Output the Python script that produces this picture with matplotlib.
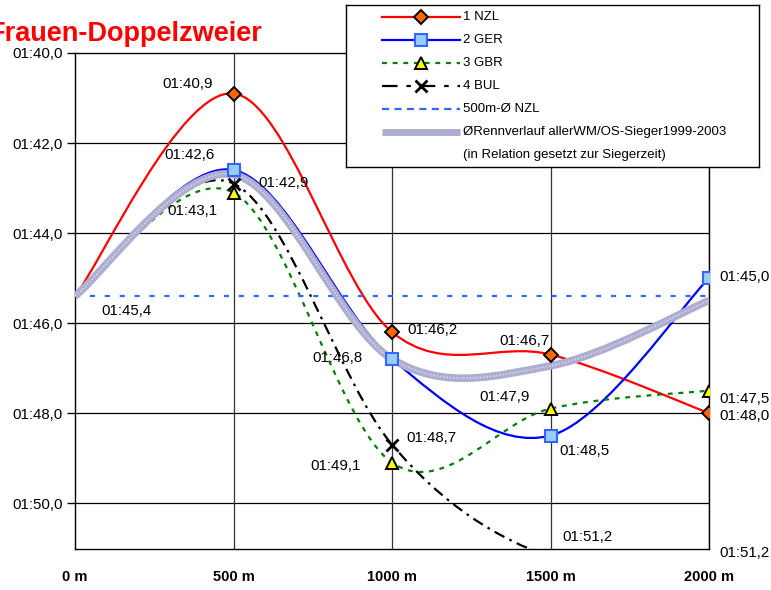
import numpy as np
import matplotlib
matplotlib.use("Agg")
import matplotlib.pyplot as plt
from matplotlib.path import Path
from matplotlib.patches import PathPatch

plt.rcParams['font.family'] = ['Liberation Sans', 'DejaVu Sans']

# split times in seconds (100.9 = 01:40,9)
distance = [0, 500, 1000, 1500, 2000]
dist_labels = ["0 m", "500 m", "1000 m", "1500 m", "2000 m"]
nzl = [105.4, 100.9, 106.2, 106.7, 108.0]
ger = [105.4, 102.6, 106.8, 108.5, 105.0]
gbr = [105.4, 103.1, 109.1, 107.9, 107.5]
bul = [105.4, 102.9, 108.7, 111.2, 111.2]
avg_nzl = [105.4, 105.4]
winners = [105.4, 102.7, 106.8, 106.95, 105.5]
y_ticks = [100, 102, 104, 106, 108, 110]


def fmt(v):
    return ("01:%04.1f" % (v - 60)).replace(".", ",")


def smooth_path(xs, ys):
    # excel-like smoothed line (catmull-rom as bezier)
    pts = np.column_stack([xs, ys]).astype(float)
    n = len(pts)
    verts = [pts[0]]
    codes = [Path.MOVETO]
    for i in range(n - 1):
        p0 = pts[max(i - 1, 0)]
        p1 = pts[i]
        p2 = pts[i + 1]
        p3 = pts[min(i + 2, n - 1)]
        verts += [p1 + (p2 - p0) / 6, p2 - (p3 - p1) / 6, p2]
        codes += [Path.CURVE4] * 3
    return Path(verts, codes)


fig = plt.figure(figsize=(7.71, 5.90), dpi=100)
ax = fig.add_axes([75 / 771, 1 - 549 / 590, 634 / 771, 496 / 590])
ax.set_xlim(0, 2000)
ax.set_ylim(111.02, 100)

# grid
for y in y_ticks[1:]:
    ax.axhline(y, color='black', lw=0.9, zorder=1)
for x in distance[1:]:
    ax.axvline(x, color='#333333', lw=0.9, zorder=1)

styles = {
    'nzl': dict(color='#ff0000', lw=1.6, ls='-'),
    'ger': dict(color='#0000ff', lw=1.6, ls='-'),
    'gbr': dict(color='#008000', lw=1.6, ls=(0, (2.2, 2.6))),
    'bul': dict(color='black', lw=1.6, ls=(0, (5, 2.5, 1.2, 2.5))),
}
series = [('nzl', nzl), ('ger', ger), ('gbr', gbr), ('bul', bul)]
for key, vals in series:
    st = styles[key]
    ax.add_patch(PathPatch(smooth_path(distance, vals), fill=False,
                           edgecolor=st['color'], lw=st['lw'],
                           linestyle=st['ls'], zorder=3))

# average of all winners (hatched band)
ax.add_patch(PathPatch(smooth_path(distance, winners), fill=False,
                       edgecolor='#adadd0', lw=5.5, zorder=4))
ax.add_patch(PathPatch(smooth_path(distance, winners), fill=False,
                       edgecolor='#d4d4ea', lw=1.2, linestyle=(0, (1, 1)),
                       zorder=4))

ax.plot([distance[0], distance[-1]], avg_nzl, color='#3366ff', lw=1.6,
        ls=(0, (2.3, 4.4)), zorder=3)

mk = dict(ls='none', zorder=5, clip_on=True)
ax.plot(distance[1:], nzl[1:], marker='D', ms=7, mfc='#ff6600', mec='black', mew=1.4, **mk)
ax.plot(distance[1:], ger[1:], marker='s', ms=8, mfc='#99ccff', mec='#3366ff', mew=1.5, **mk)
ax.plot(distance[1:], gbr[1:], marker='^', ms=8, mfc='#ffff00', mec='black', mew=1.4, **mk)
ax.plot(distance[1:], bul[1:], marker='x', ms=8, mec='black', mew=2, **mk)

# data labels (offset in pixels from the point)
label_offsets = {
    'nzl': [(-46, 10), (40, 2), (-26, 14), (36, -3)],
    'ger': [(-44, 15), (-55, 1), (34, -15), (36, 1)],
    'gbr': [(-41, -18), (-56, -3), (-46, 12), (36, -8)],
    'bul': [(50, 1), (39, 7), (37, 20), (36, 4)],
}
for key, vals in series:
    for x, v, off in zip(distance[1:], vals[1:], label_offsets[key]):
        ax.annotate(fmt(v), (x, v), xytext=off, textcoords='offset pixels',
                    ha='center', va='center', fontsize=10.8,
                    annotation_clip=False, zorder=6)
ax.annotate(fmt(avg_nzl[0]), (distance[0], avg_nzl[0]), xytext=(52, -15),
            textcoords='offset pixels', ha='center', va='center', fontsize=10.8)

ax.set_yticks(y_ticks)
ax.set_yticklabels([fmt(v) for v in y_ticks])
ax.set_xticks(distance)
ax.set_xticklabels(dist_labels, fontweight='bold')
ax.tick_params(axis='y', length=6, width=1, pad=3, labelsize=10.8)
ax.tick_params(axis='x', length=0, pad=15, labelsize=10.5)
for sp in ax.spines.values():
    sp.set_color('black')
    sp.set_linewidth(1)

fig.text(262 / 771, 1 - 41 / 590, "Frauen-Doppelzweier", color='#ff0000',
         fontsize=19.5, fontweight='bold', ha='right', va='baseline')

# legend box
lax = fig.add_axes([346 / 771, 1 - 167 / 590, 413 / 771, 162 / 590])
lax.set_xlim(0, 413)
lax.set_ylim(162, 0)
lax.set_xticks([])
lax.set_yticks([])
lax.set_facecolor('white')
for sp in lax.spines.values():
    sp.set_color('black')
    sp.set_linewidth(1)
rows = [12, 35, 58, 81, 104, 127, 150]
x0, x1, xm, xt = 36, 114, 75, 117
lax.plot([x0, x1], [rows[0]] * 2, **styles['nzl'])
lax.plot([xm], [rows[0]], marker='D', ms=7, mfc='#ff6600', mec='black', mew=1.4)
lax.plot([x0, x1], [rows[1]] * 2, **styles['ger'])
lax.plot([xm], [rows[1]], marker='s', ms=8, mfc='#99ccff', mec='#3366ff', mew=1.5)
lax.plot([x0, x1], [rows[2]] * 2, **styles['gbr'])
lax.plot([xm], [rows[2]], marker='^', ms=8, mfc='#ffff00', mec='black', mew=1.4)
lax.plot([x0, x1], [rows[3]] * 2, color='black', lw=1.6, ls=(0, (7, 4, 2, 4)))
lax.plot([xm], [rows[3]], marker='x', ms=8, mec='black', mew=2)
lax.plot([x0, x1], [rows[4]] * 2, color='#3366ff', lw=1.6, ls=(0, (3.2, 2.4)))
lax.plot([x0, x1], [rows[5]] * 2, color='#adadd0', lw=5, solid_capstyle='butt')
legend_texts = ["1 NZL", "2 GER", "3 GBR", "4 BUL", "500m-Ø NZL",
                "ØRennverlauf allerWM/OS-Sieger1999-2003",
                "(in Relation gesetzt zur Siegerzeit)"]
for y, t in zip(rows, legend_texts):
    lax.text(xt, y, t, fontsize=9.5, va='center', ha='left')

fig.savefig("out.png", dpi=100)
